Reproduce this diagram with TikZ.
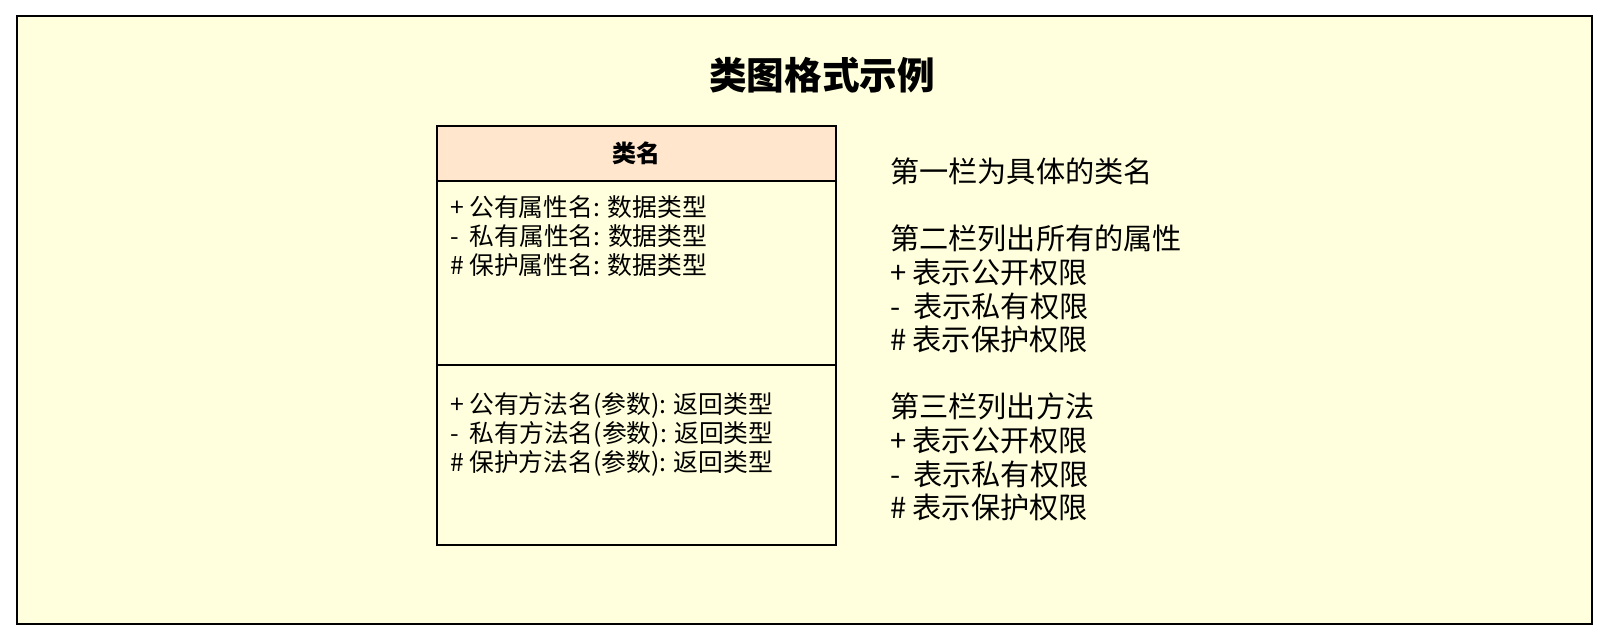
\documentclass[tikz,border=0pt]{standalone}
\usepackage{fontspec}
\setmainfont{Noto Sans CJK SC}
\usetikzlibrary{positioning}

\definecolor{notebg}{HTML}{FFFFDD}
\definecolor{headbg}{HTML}{FFE6CC}

\begin{document}
\begin{tikzpicture}[
  x=0.5pt, y=-0.5pt,
  every node/.style={inner sep=0pt, outer sep=0pt},
  frame/.style={draw=black, line width=1pt, fill=notebg, anchor=north west},
  part/.style={draw=black, line width=1pt, anchor=north west, minimum width=199.5pt},
  member/.style={anchor=north west, align=left, font=\fontsize{12.4pt}{14.5pt}\selectfont},
  note/.style={anchor=north west, align=left, font=\fontsize{14.6pt}{16.8pt}\selectfont}
]
\useasboundingbox (0,0) rectangle (1614,635);

% Background frame and title
\node[frame, minimum width=787.5pt, minimum height=304pt] (frame) at (17,16) {};
\node[font=\fontsize{18.8pt}{22pt}\selectfont\bfseries] (title) at (822,75) {类图格式示例};

% Class box: name, attributes, methods
\node[part, fill=headbg, minimum height=27.5pt] (head) at (437,126) {};
\node[font=\fontsize{12pt}{14pt}\selectfont\bfseries] (cname) at (head.center) {类名};
\node[part, fill=notebg, minimum height=92pt] (attrs) at (437,181) {};
\node[part, fill=notebg, minimum height=90pt] (meths) at (437,365) {};

\node[member, below right=7.3pt and 6.5pt of attrs.north west] (attrtext)
  {+ 公有属性名: 数据类型\\- \ 私有属性名: 数据类型\\\# 保护属性名: 数据类型};
\node[member, below right=13.6pt and 6.5pt of meths.north west] (methtext)
  {+ 公有方法名(参数): 返回类型\\- \ 私有方法名(参数): 返回类型\\\# 保护方法名(参数): 返回类型};

% Explanation on the right
\node[note] (notes) at (890,158)
  {第一栏为具体的类名\\[16.8pt]
   第二栏列出所有的属性\\+ 表示公开权限\\- \ 表示私有权限\\\# 表示保护权限\\[16.8pt]
   第三栏列出方法\\+ 表示公开权限\\- \ 表示私有权限\\\# 表示保护权限};
\end{tikzpicture}
\end{document}
